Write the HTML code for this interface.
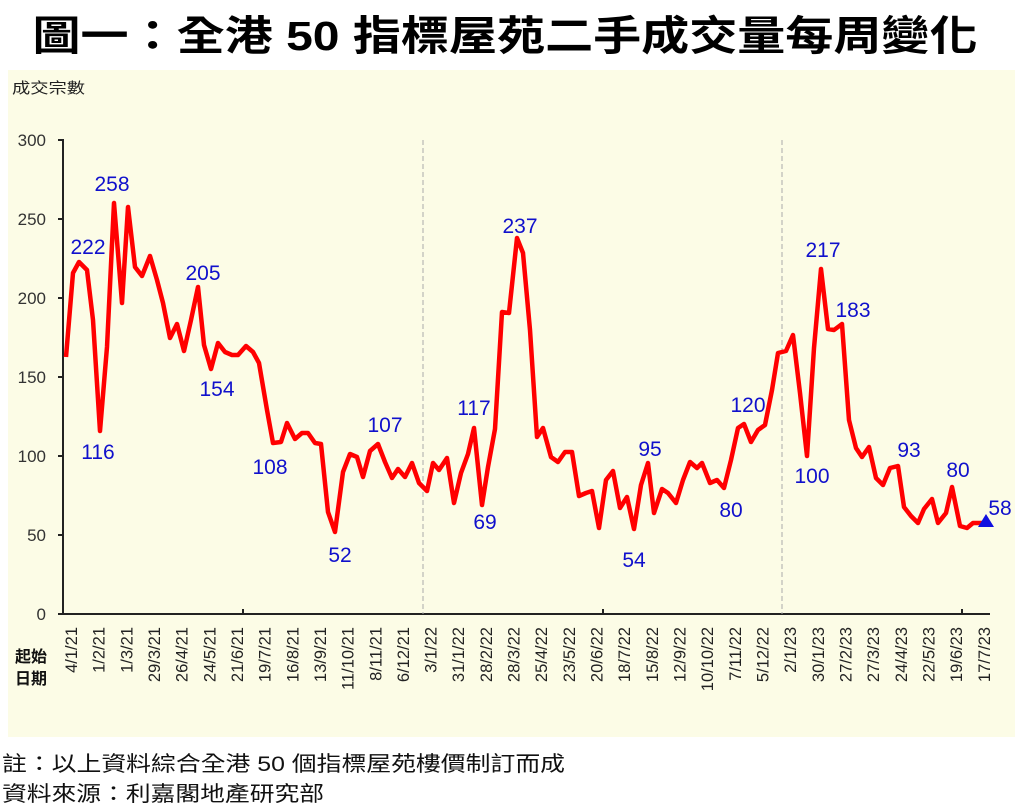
<!DOCTYPE html>
<html><head><meta charset="utf-8"><style>
html,body{margin:0;padding:0;background:#fff;width:1028px;height:809px;overflow:hidden}
svg{display:block}
</style></head><body>
<svg width="1028" height="809" xmlns="http://www.w3.org/2000/svg" font-family="'Liberation Sans','Noto Sans CJK TC',sans-serif">
<text x="505" y="50" text-anchor="middle" font-size="41" font-weight="bold" font-family="'Liberation Sans','Noto Sans CJK TC',sans-serif" textLength="945" lengthAdjust="spacingAndGlyphs">圖一：全港 50 指標屋苑二手成交量每周變化</text>
<rect x="8" y="70" width="1007" height="667" fill="#fcfce6"/>
<text x="12" y="93" font-size="15" fill="#222" textLength="73" lengthAdjust="spacingAndGlyphs">成交宗數</text>
<g font-size="17" fill="#333" text-anchor="end">
<text x="46" y="620">0</text><text x="46" y="541">50</text><text x="46" y="462">100</text><text x="46" y="383">150</text><text x="46" y="304">200</text><text x="46" y="225">250</text><text x="46" y="146">300</text>
</g>
<g stroke="#222" stroke-width="2">
<line x1="63" y1="139" x2="63" y2="615"/>
<line x1="62" y1="614" x2="990" y2="614"/>
<line x1="58" y1="614" x2="63" y2="614"/><line x1="58" y1="535" x2="63" y2="535"/><line x1="58" y1="456" x2="63" y2="456"/><line x1="58" y1="377" x2="63" y2="377"/><line x1="58" y1="298" x2="63" y2="298"/><line x1="58" y1="219" x2="63" y2="219"/><line x1="58" y1="140" x2="63" y2="140"/>
<line x1="243" y1="609" x2="243" y2="614"/><line x1="603" y1="609" x2="603" y2="614"/><line x1="962" y1="609" x2="962" y2="614"/>
</g>
<g stroke="#aaa" stroke-width="1" stroke-dasharray="5,3">
<line x1="423" y1="140" x2="423" y2="614"/><line x1="782" y1="140" x2="782" y2="614"/>
</g>
<polyline fill="none" stroke="#f00" stroke-width="4.5" stroke-linejoin="round" points="66,357 73,273 79,262 87,270 93,320 100,431 107,347 114,203 122,303 128,207 135,267 142,276 150,256 157,280 163,303 170,338 177,324 184,351 191,320 198,287 204,345 211,369 218,343 225,352 232,355 238,355 246,346 253,352 259,363 267,410 273,443 281,442 287,423 295,439 302,433 308,433 315,443 321,444 328,512 335,532 343,472 350,454 357,457 363,477 370,451 378,444 385,462 392,478 398,469 405,477 412,463 419,483 427,491 433,463 439,470 447,458 454,503 461,473 468,454 474,428 482,505 488,467 495,429 502,312 509,313 517,238 523,253 530,330 537,437 543,428 551,457 558,462 565,452 572,452 579,496 586,493 592,491 599,528 606,480 613,471 620,508 627,497 634,529 641,485 648,463 654,513 662,489 668,493 676,503 683,480 690,462 697,468 702,463 710,483 717,480 724,488 731,460 738,428 744,424 751,442 758,430 765,425 772,390 778,353 786,351 793,335 800,393 807,456 814,348 821,269 828,329 834,330 842,324 849,420 856,448 862,457 869,447 876,478 883,485 890,468 898,466 904,507 911,516 918,523 924,509 932,499 938,523 946,513 952,487 960,526 967,528 973,523 980,523 986,523"/>
<polygon points="986,514 978,527 994,527" fill="#1010e0"/>
<g font-size="21" fill="#1010cc" text-anchor="middle">
<text x="88" y="254">222</text><text x="112" y="191">258</text><text x="98" y="459">116</text><text x="203" y="280">205</text><text x="217" y="396">154</text><text x="270" y="474">108</text><text x="340" y="562">52</text><text x="385" y="432">107</text><text x="474" y="415">117</text><text x="485" y="529">69</text><text x="520" y="233">237</text><text x="634" y="567">54</text><text x="650" y="456">95</text><text x="731" y="517">80</text><text x="748" y="412">120</text><text x="812" y="483">100</text><text x="823" y="257">217</text><text x="853" y="317">183</text><text x="909" y="457">93</text><text x="958" y="477">80</text><text x="1000" y="515">58</text>
</g>
<text x="15" y="662" font-size="16" font-weight="bold" fill="#111">起始</text>
<text x="15" y="684" font-size="16" font-weight="bold" fill="#111">日期</text>
<g font-size="16.5" fill="#222" text-anchor="end">
<text transform="translate(77,627) rotate(-90)">4/1/21</text>
<text transform="translate(104.7,627) rotate(-90)">1/2/21</text>
<text transform="translate(132.3,627) rotate(-90)">1/3/21</text>
<text transform="translate(160,627) rotate(-90)">29/3/21</text>
<text transform="translate(187.6,627) rotate(-90)">26/4/21</text>
<text transform="translate(215.3,627) rotate(-90)">24/5/21</text>
<text transform="translate(243,627) rotate(-90)">21/6/21</text>
<text transform="translate(270.6,627) rotate(-90)">19/7/21</text>
<text transform="translate(298.3,627) rotate(-90)">16/8/21</text>
<text transform="translate(325.9,627) rotate(-90)">13/9/21</text>
<text transform="translate(353.6,627) rotate(-90)">11/10/21</text>
<text transform="translate(381.3,627) rotate(-90)">8/11/21</text>
<text transform="translate(408.9,627) rotate(-90)">6/12/21</text>
<text transform="translate(436.6,627) rotate(-90)">3/1/22</text>
<text transform="translate(464.2,627) rotate(-90)">31/1/22</text>
<text transform="translate(491.9,627) rotate(-90)">28/2/22</text>
<text transform="translate(519.6,627) rotate(-90)">28/3/22</text>
<text transform="translate(547.2,627) rotate(-90)">25/4/22</text>
<text transform="translate(574.9,627) rotate(-90)">23/5/22</text>
<text transform="translate(602.5,627) rotate(-90)">20/6/22</text>
<text transform="translate(630.2,627) rotate(-90)">18/7/22</text>
<text transform="translate(657.9,627) rotate(-90)">15/8/22</text>
<text transform="translate(685.5,627) rotate(-90)">12/9/22</text>
<text transform="translate(713.2,627) rotate(-90)">10/10/22</text>
<text transform="translate(740.8,627) rotate(-90)">7/11/22</text>
<text transform="translate(768.5,627) rotate(-90)">5/12/22</text>
<text transform="translate(796.2,627) rotate(-90)">2/1/23</text>
<text transform="translate(823.8,627) rotate(-90)">30/1/23</text>
<text transform="translate(851.5,627) rotate(-90)">27/2/23</text>
<text transform="translate(879.1,627) rotate(-90)">27/3/23</text>
<text transform="translate(906.8,627) rotate(-90)">24/4/23</text>
<text transform="translate(934.5,627) rotate(-90)">22/5/23</text>
<text transform="translate(962.1,627) rotate(-90)">19/6/23</text>
<text transform="translate(989.8,627) rotate(-90)">17/7/23</text>
</g>
<text x="2" y="771" font-size="21" fill="#111" textLength="563" lengthAdjust="spacingAndGlyphs">註：以上資料綜合全港 50 個指標屋苑樓價制訂而成</text>
<text x="2" y="801" font-size="21" fill="#111" textLength="322" lengthAdjust="spacingAndGlyphs">資料來源：利嘉閣地產研究部</text>
</svg>
</body></html>
